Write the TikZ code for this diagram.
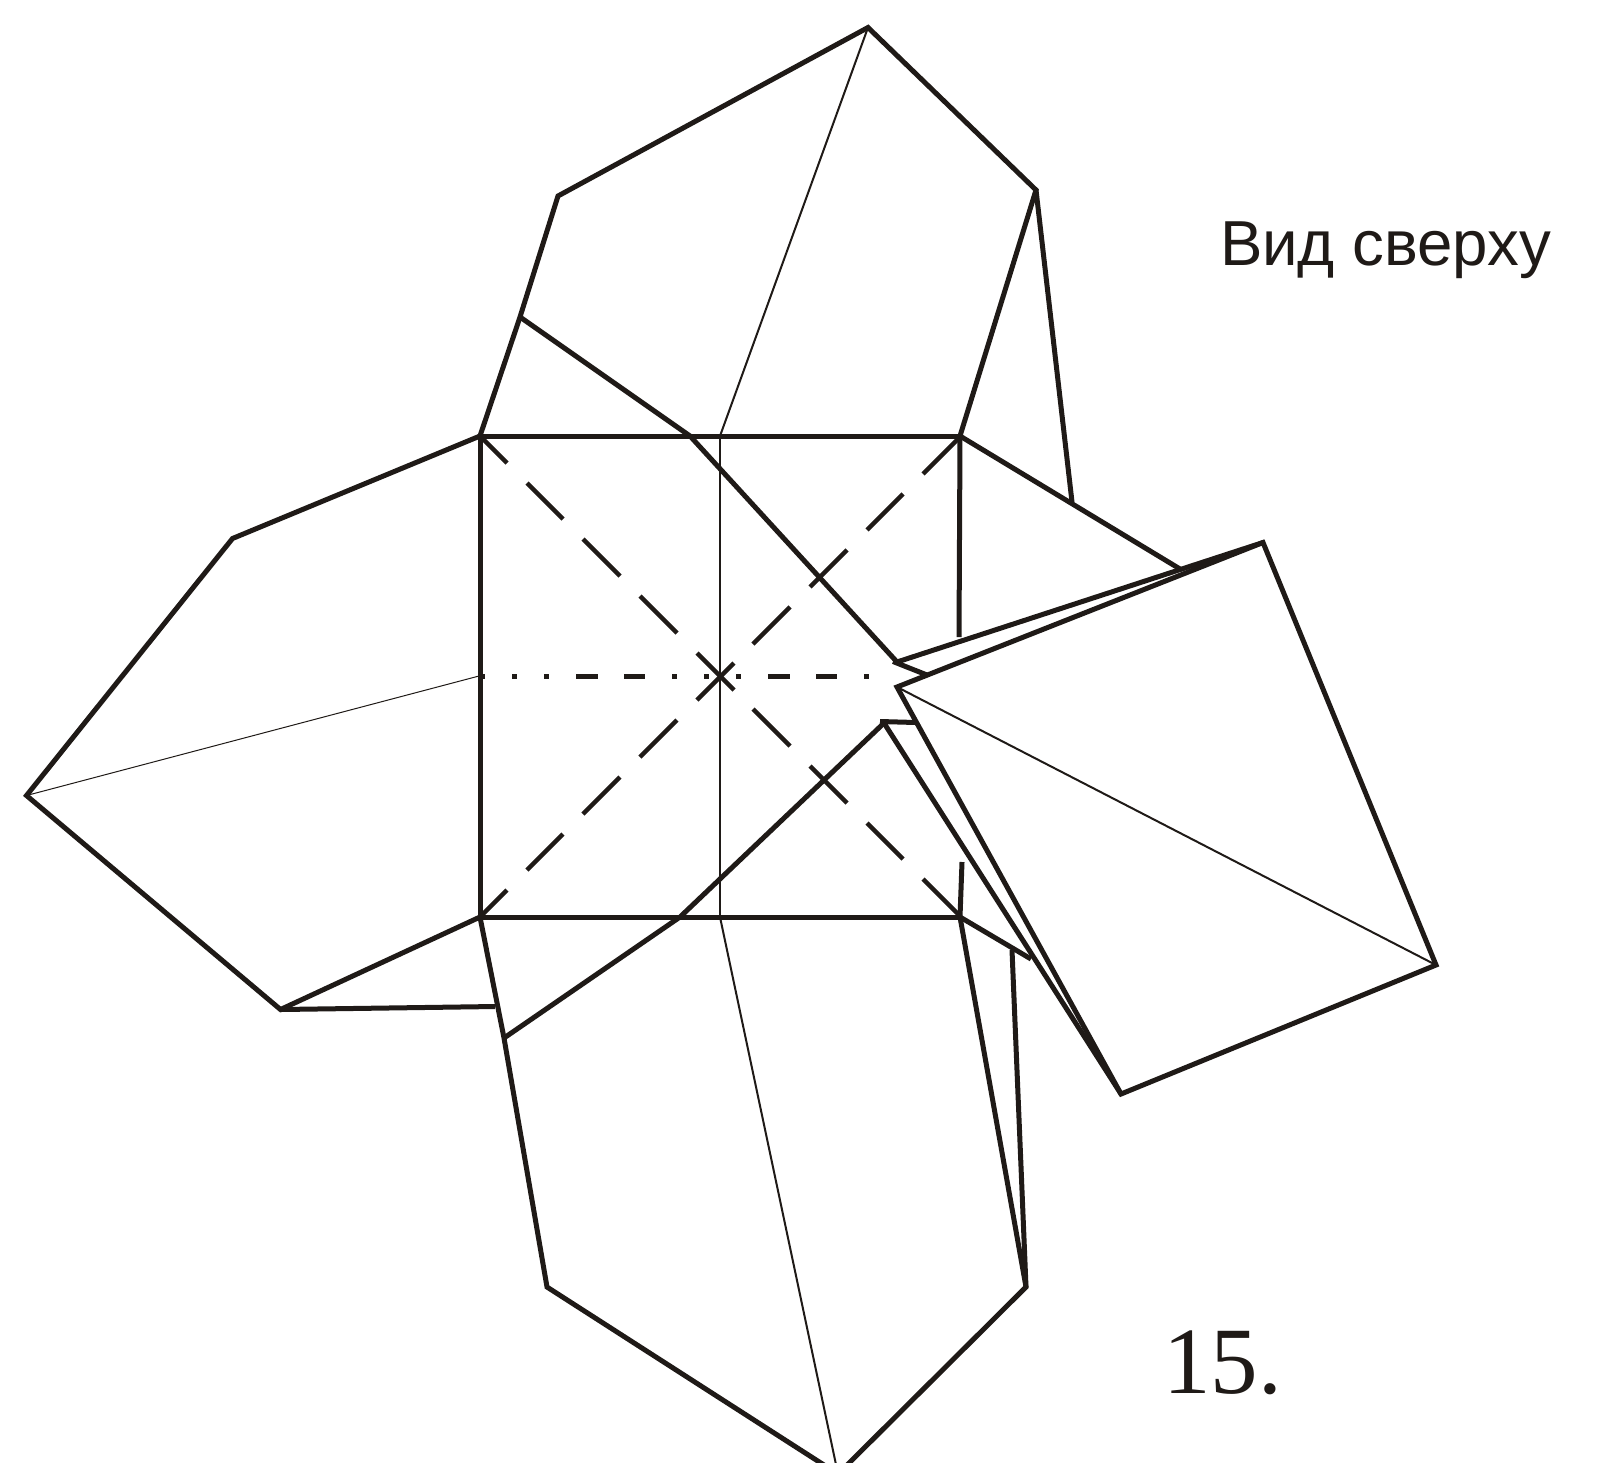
\documentclass[tikz,border=0pt]{standalone}
\usepackage{fontspec}
\usetikzlibrary{calc}
\setmainfont{Liberation Sans}
\newfontfamily\numfont{Liberation Serif}
\definecolor{ink}{HTML}{1F1A17}
\tikzset{
  px/.style={x=0.5pt,y=-0.5pt},
  heavy/.style={draw=ink,line width=2.5pt,line join=miter,miter limit=10},
  crease/.style={draw=ink,line width=2.2pt},
  chain/.style={draw=ink,line width=2.6pt},
  fine/.style={draw=ink,line width=1pt},
  hair/.style={draw=ink,line width=0.5pt},
  label/.style={inner sep=0pt,outer sep=0pt,anchor=base west,text=ink}
}
\begin{document}
\begin{tikzpicture}[px]
\useasboundingbox (0,0) rectangle (1599,1462);
\clip (0,0) rectangle (1599,1462);
% square
\coordinate (TL) at (480,436);
\coordinate (TR) at (960,436);
\coordinate (BR) at (960,917);
\coordinate (BL) at (480,917);
\coordinate (C) at (720,676);
% top flap
\coordinate (t1) at (520,317);
\coordinate (t2) at (558,196);
\coordinate (t3) at (868,27.5);
\coordinate (t4) at (1036,190);
\coordinate (t5) at (1072,502);
\coordinate (t6) at (1180,569);
\coordinate (t7) at (690,436);
\coordinate (t8) at (720,436);
\coordinate (fold) at (897,662);
\coordinate (r1) at (959,637);
% kite
\coordinate (A) at (897,687);
\coordinate (K1) at (1263,542.5);
\coordinate (K2) at (1436,965);
\coordinate (K3) at (1121,1094);
\coordinate (s1) at (893,661.5);
\coordinate (s2) at (927,675);
% lower fold
\coordinate (L) at (884,723);
\coordinate (L0) at (880,721.5);
\coordinate (L1) at (916,722.5);
\coordinate (b0) at (680,917);
\coordinate (b1) at (504,1038);
% left flap
\coordinate (l1) at (232.5,538.5);
\coordinate (l2) at (26.5,795.5);
\coordinate (l3) at (280.5,1009.5);
\coordinate (l4) at (495,1006.5);
\coordinate (lm) at (479,676);
% bottom flap
\coordinate (b2) at (547,1287);
\coordinate (b3) at (838,1474);
\coordinate (b4) at (1026,1287);
\coordinate (b5) at (720,917);
\coordinate (e1) at (1031,959);
\coordinate (e2) at (1012,950);
\coordinate (e3) at (962,862);

% thin creases
\path[fine] (t3) -- (t8);
\path[fine] (t8) -- (b5);
\path[fine] (b5) -- (b3);
\path[fine] (A) -- (K2);
\path[hair] (l2) -- (lm);

% dashed diagonals
\foreach \a/\b in {0/27,47/83,103/140,160/197,217/254,273/310,330/367,387/423,443/480}{
  \path[crease] ($(TL)+(\a,\a)$) -- ($(TL)+(\b,\b)$);
  \path[crease] ($(BL)+(\a,-\a)$) -- ($(BL)+(\b,-\b)$);
}
% dash-dot centre line
\foreach \a/\b in {480/485,512/517,544/549,576/597.5,624/645,672/677,704/709,736/741,768/789.5,816/837,864/869}{
  \path[chain] (\a,676.5) -- (\b,676.5);
}

% square outline
\path[heavy] (TL) -- (TR);
\path[heavy] (BL) -- (BR);
\path[heavy] (TL) -- (BL);
\path[heavy] (TR) -- (r1);
% flaps
\path[heavy] (TL) -- (t1) -- (t2) -- (t3) -- (t4) -- (TR) -- (t6);
\path[heavy] (t4) -- (t5);
\path[heavy] (t1) -- (t7) -- (fold);
\path[heavy] (fold) -- (K1);
\path[heavy] (s1) -- (s2);
\path[heavy] (A) -- (K1) -- (K2) -- (K3) -- cycle;
\path[heavy] (L0) -- (L1);
\path[heavy] (L) -- (K3);
\path[heavy] (L) -- (b0) -- (b1);
\path[heavy] (TL) -- (l1) -- (l2) -- (l3) -- (BL);
\path[heavy] (l3) -- (l4);
\path[heavy] (BL) -- (b1) -- (b2) -- (b3) -- (b4) -- (BR);
\path[heavy] (BR) -- (e1);
\path[heavy] (BR) -- (e3);
\path[heavy] (e2) -- (b4);

\node[label,font=\fontsize{31.8pt}{36pt}\selectfont] (view) at (1220,265) {Вид сверху};
\node[label,font=\numfont\fontsize{47.5pt}{52pt}\selectfont] (num) at (1163,1393) {15.};
\end{tikzpicture}
\end{document}
